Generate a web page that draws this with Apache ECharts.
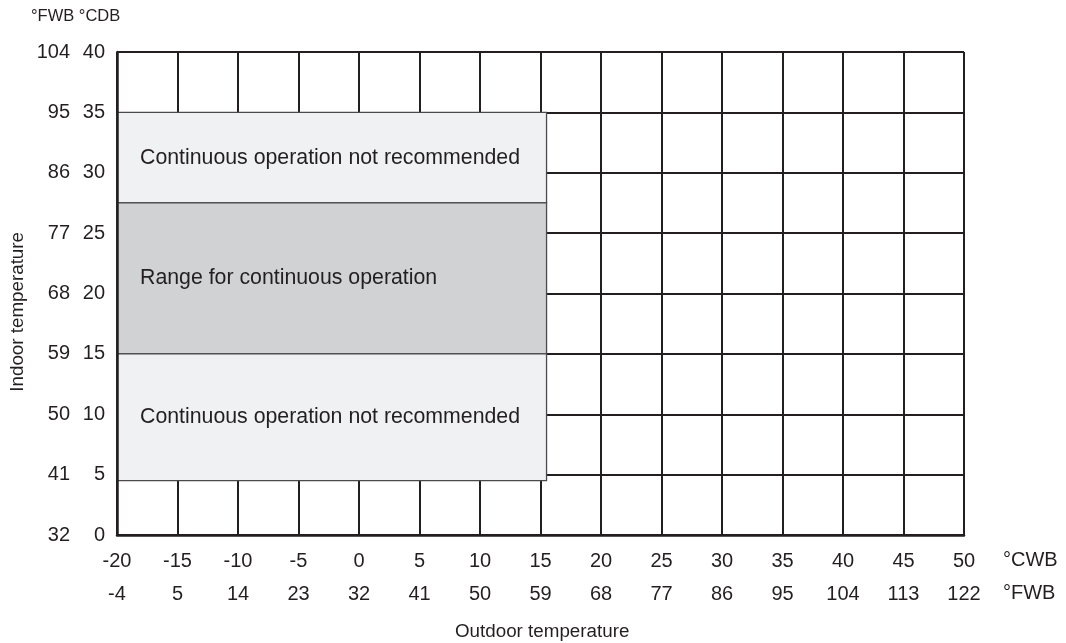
<!DOCTYPE html>
<html>
<head>
<meta charset="utf-8">
<title>Operating range</title>
<script src="https://cdn.jsdelivr.net/npm/echarts@6/dist/echarts.min.js"></script>
<style>
  html, body { margin: 0; padding: 0; background: #ffffff; }
  #chart { width: 1066px; height: 643px; }
</style>
</head>
<body>
<div id="chart"></div>
<script>
// Outdoor temperature ticks (wet bulb), Celsius and Fahrenheit rows
const outdoorCWB = [-20, -15, -10, -5, 0, 5, 10, 15, 20, 25, 30, 35, 40, 45, 50];
const outdoorFWB = [-4, 5, 14, 23, 32, 41, 50, 59, 68, 77, 86, 95, 104, 113, 122];

// Indoor temperature ticks, Celsius and Fahrenheit columns
const indoorCDB = [0, 5, 10, 15, 20, 25, 30, 35, 40];
const indoorFWB = [32, 41, 50, 59, 68, 77, 86, 95, 104];

// Operating zones: outdoor span and indoor band for each
const zoneNames = [
  'Continuous operation not recommended',
  'Range for continuous operation',
  'Continuous operation not recommended'
];
const zoneOutdoorFrom = [-20, -20, -20];
const zoneOutdoorTo   = [15.5, 15.5, 15.5];
const zoneIndoorLow   = [27.5, 15, 4.5];
const zoneIndoorHigh  = [35, 27.5, 15];
const zoneShade       = ['light', 'dark', 'light'];

const INK = '#231f20';
const FONT = '"Liberation Sans", Arial, Helvetica, sans-serif';
const shadeColor = { light: '#f0f1f3', dark: '#d1d2d4' };

function pick(ticks, labels) {
  return function (v) {
    const i = ticks.indexOf(Math.round(v * 100) / 100);
    return i >= 0 ? String(labels[i]) : '';
  };
}

const xBase = { type: 'value', min: -20, max: 50, interval: 5, position: 'bottom' };
const yBase = { type: 'value', min: 0, max: 40, interval: 5, position: 'left' };

const zoneData = zoneNames.map((n, i) => [
  zoneOutdoorFrom[i], zoneOutdoorTo[i], zoneIndoorLow[i], zoneIndoorHigh[i], i
]);

const chart = echarts.init(document.getElementById('chart'), null, { renderer: 'canvas' });

chart.setOption({
  animation: false,
  backgroundColor: '#ffffff',
  textStyle: { fontFamily: FONT },
  grid: { left: 117, right: 102, top: 52, bottom: 108, containLabel: false },
  xAxis: [
    Object.assign({}, xBase, {
      z: 5,
      axisLine: { show: true, onZero: false, lineStyle: { color: INK, width: 2.5 } },
      axisTick: { show: false },
      splitLine: { show: false },
      axisLabel: { margin: 16, fontSize: 20, color: INK, fontFamily: FONT, formatter: pick(outdoorCWB, outdoorCWB) }
    }),
    Object.assign({}, xBase, {
      offset: 33,
      axisLine: { show: false },
      axisTick: { show: false },
      splitLine: { show: false },
      axisLabel: { margin: 16, fontSize: 20, color: INK, fontFamily: FONT, formatter: pick(outdoorCWB, outdoorFWB) }
    }),
    Object.assign({}, xBase, {
      z: 0,
      axisLine: { show: false },
      axisTick: { show: false },
      axisLabel: { show: false },
      splitLine: { show: true, lineStyle: { color: INK, width: 2 } }
    })
  ],
  yAxis: [
    Object.assign({}, yBase, {
      z: 5,
      axisLine: { show: true, onZero: false, lineStyle: { color: INK, width: 2.5 } },
      axisTick: { show: false },
      splitLine: { show: false },
      axisLabel: { margin: 12, fontSize: 20, color: INK, fontFamily: FONT, padding: [0, 0, 5, 0], formatter: pick(indoorCDB, indoorCDB) }
    }),
    Object.assign({}, yBase, {
      offset: 35,
      axisLine: { show: false },
      axisTick: { show: false },
      splitLine: { show: false },
      axisLabel: { margin: 12, fontSize: 20, color: INK, fontFamily: FONT, padding: [0, 0, 5, 0], formatter: pick(indoorCDB, indoorFWB) }
    }),
    Object.assign({}, yBase, {
      z: 0,
      axisLine: { show: false },
      axisTick: { show: false },
      axisLabel: { show: false },
      splitLine: { show: true, lineStyle: { color: INK, width: 2 } }
    })
  ],
  series: [{
    type: 'custom',
    xAxisIndex: 0,
    yAxisIndex: 0,
    z: 2,
    encode: { x: [0, 1], y: [2, 3] },
    data: zoneData,
    renderItem: function (params, api) {
      const i = api.value(4);
      const topLeft = api.coord([api.value(0), api.value(3)]);
      const bottomRight = api.coord([api.value(1), api.value(2)]);
      return {
        type: 'group',
        children: [{
          type: 'rect',
          shape: {
            x: topLeft[0], y: topLeft[1],
            width: bottomRight[0] - topLeft[0],
            height: bottomRight[1] - topLeft[1]
          },
          style: { fill: shadeColor[zoneShade[i]], stroke: '#4a4a4c', lineWidth: 1.3 }
        }, {
          type: 'text',
          x: topLeft[0] + 23,
          y: (topLeft[1] + bottomRight[1]) / 2,
          style: {
            text: zoneNames[i],
            fill: INK,
            fontSize: 21.3,
            fontFamily: FONT,
            align: 'left',
            verticalAlign: 'middle'
          }
        }]
      };
    }
  }],
  graphic: [
    { type: 'text', left: 31, top: 8, style: { text: '°FWB °CDB', fontSize: 16.5, fill: INK, fontFamily: FONT } },
    { type: 'text', left: 1003, top: 550, style: { text: '°CWB', fontSize: 20, fill: INK, fontFamily: FONT } },
    { type: 'text', left: 1003, top: 583, style: { text: '°FWB', fontSize: 20, fill: INK, fontFamily: FONT } },
    { type: 'text', left: 455, top: 622, style: { text: 'Outdoor temperature', fontSize: 18.8, fill: INK, fontFamily: FONT } },
    { type: 'text', left: 8, top: 232, rotation: Math.PI / 2, style: { text: 'Indoor temperature', fontSize: 18.8, fill: INK, fontFamily: FONT } }
  ]
});
</script>
</body>
</html>
